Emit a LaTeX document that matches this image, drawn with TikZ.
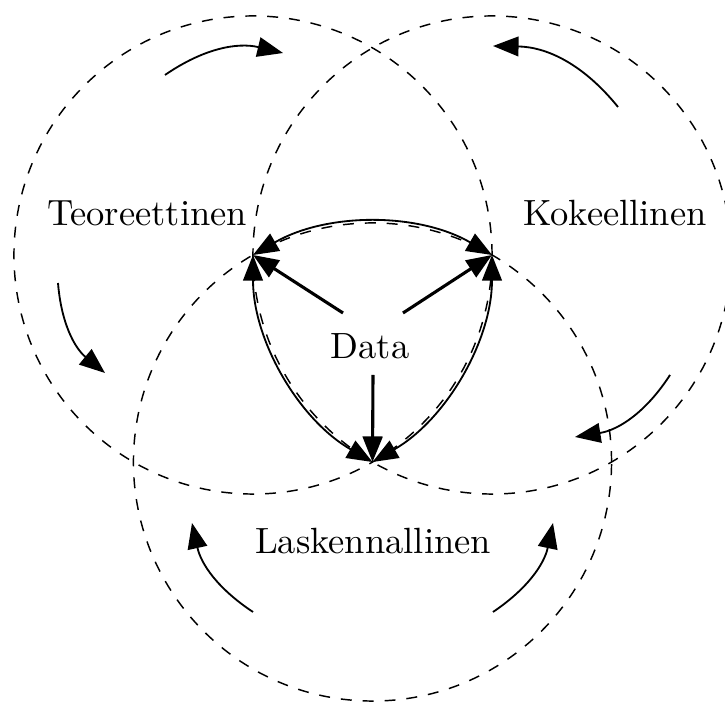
\documentclass[tikz,border=0pt]{standalone}
\usetikzlibrary{arrows.meta}
\begin{document}
\begin{tikzpicture}[x=0.274pt,y=0.274pt,
  tip/.tip={Triangle[length=7pt,width=5.4pt]},
  field/.style={draw,dashed,line width=0.4pt},
  cyc/.style={-tip,line width=0.5pt},
  link/.style={tip-tip,line width=0.5pt},
  datarrow/.style={-tip,line width=0.85pt},
  lbl/.style={inner sep=0pt,font=\normalsize}]
\useasboundingbox (0,0) rectangle (725,702);
% circle centres
\coordinate (A) at (253,447);
\coordinate (B) at (492,447);
\coordinate (C) at (372.5,240);
% dashed circles
\draw[field] (A) circle[radius=65.5pt];
\draw[field] (B) circle[radius=65.5pt];
\draw[field] (C) circle[radius=65.5pt];
% labels
\node[lbl] (teo) at (147,489) {Teoreettinen};
\node[lbl] (kok) at (615,489) {Kokeellinen};
\node[lbl] (data) at (370,356) {Data};
\node[lbl] (las) at (373,161) {Laskennallinen};
% arrows from Data
\coordinate (d1) at (343,389);
\coordinate (d2) at (403,389);
\coordinate (d3) at (373,327);
\draw[datarrow] (d1) -- (A);
\draw[datarrow] (d2) -- (B);
\draw[datarrow] (d3) -- (C);
% Reuleaux arcs (A to B on circle C, A to C on circle B, B to C on circle A)
\draw[link] (A) arc[start angle=120, end angle=60, radius=65.5pt];
\draw[link] (A) arc[start angle=180, end angle=240, radius=65.5pt];
\draw[link] (B) arc[start angle=0, end angle=-60, radius=65.5pt];
% circulation arrows
\coordinate (s1) at (165,627); \coordinate (t1) at (283,649);
\coordinate (s2) at (58,419);  \coordinate (t2) at (105,329);
\coordinate (s3) at (618,595); \coordinate (t3) at (493,656);
\coordinate (s4) at (670,327); \coordinate (t4) at (575,265);
\coordinate (s5) at (253,90);  \coordinate (t5) at (192,179);
\coordinate (s6) at (493,90);  \coordinate (t6) at (553,179);
\draw[cyc] (s1) to[bend left=24] (t1);
\draw[cyc] (s2) to[bend right=23] (t2);
\draw[cyc] (s3) to[bend right=25] (t3);
\draw[cyc] (s4) to[bend left=24] (t4);
\draw[cyc] (s5) to[bend left=22] (t5);
\draw[cyc] (s6) to[bend right=22] (t6);
\end{tikzpicture}
\end{document}
